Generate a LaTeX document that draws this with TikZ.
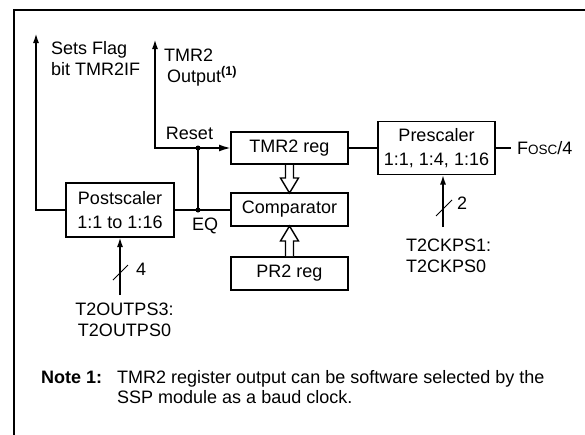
\documentclass[tikz,border=0pt]{standalone}
\usepackage{fontspec}
\setmainfont{Liberation Sans}
\usetikzlibrary{positioning,arrows.meta,calc}

\tikzset{
  blk/.style={draw, line width=1.9pt, minimum width=117pt, minimum height=33pt,
    inner sep=0pt, outer sep=0pt, align=center},
  twoline/.style={font=\fontsize{18}{24.5}\selectfont},
  wire/.style={line width=1.9pt},
  sig/.style={wire, -{Latex[length=10pt,width=6pt]}},
  lbl/.style={inner sep=0pt, align=left},
  hollow/.style={line width=1.4pt, fill=white},
}

\begin{document}
\begin{tikzpicture}[x=1pt, y=-1pt, font=\fontsize{18}{21}\selectfont]
    \useasboundingbox (0,0) rectangle (585,434);
    % frame
    \draw[line width=2pt] (14,440) -- (14,10) -- (590,10);

    % blocks
    \node[blk, minimum height=32pt] (tmr) at (289.5,148) {TMR2 reg};
    \node[blk, below=29pt of tmr] (cmp) {Comparator};
    \node[blk, below=31pt of cmp] (pr2) {PR2 reg};
    \node[blk, twoline, minimum width=108pt, minimum height=54pt] (post) at (120,210) {Postscaler\\1:1 to 1:16};
    \node[blk, twoline, minimum height=53pt] (pre) at (436.5,148) {Prescaler\\1:1, 1:4, 1:16};

    % hollow data arrows
    \draw[hollow] ($(tmr.south)+(-4,1)$) -- ($(cmp.north)+(-4,-15)$) -- ($(cmp.north)+(-9,-15)$)
        -- (cmp.north) -- ($(cmp.north)+(9,-15)$) -- ($(cmp.north)+(4,-15)$) -- ($(tmr.south)+(4,1)$);
    \draw[hollow] ($(pr2.north)+(-4,-1)$) -- ($(cmp.south)+(-4,15)$) -- ($(cmp.south)+(-9,15)$)
        -- (cmp.south) -- ($(cmp.south)+(9,15)$) -- ($(cmp.south)+(4,15)$) -- ($(pr2.north)+(4,-1)$);

    % signal points
    \coordinate (flag) at (36,33);
    \coordinate (tout) at (155,39);
    \coordinate (rst) at (198,148);
    \coordinate (eq) at (198,210);
    \coordinate (pin) at (120,295);
    \coordinate (ckin) at (443,227);

    % wires
    \draw[sig] (post.west) -| (flag);
    \draw[sig] (rst) -| (tout);
    \draw[wire, -{Latex[length=12pt,width=7pt]}] (rst) -- (tmr.west);
    \draw[wire] (post.east) -- (post.east -| cmp.west);
    \draw[wire] (eq) -- (rst);
    \draw[wire] (tmr.east) -- (pre.west);
    \draw[sig] (pin) -- (post.south);
    \draw[sig] (ckin) -- (ckin |- pre.south);
    \fill (rst) circle (2.5);
    \fill (eq) circle (2.5);

    % bus slashes
    \draw[line width=1pt] ($(pin)+(-7,-15)$) -- ($(pin)+(8,-30)$);
    \draw[line width=1pt] ($(ckin)+(-7,-11)$) -- ($(ckin)+(9,-27)$);

    % labels (base = last line)
    \node[lbl, anchor=base west] (flagtxt) at (51,75) {Sets Flag\\bit TMR2IF};
    \node[lbl, anchor=base west] (outtxt) at (164,61) {TMR2};
    \node[lbl, anchor=base west] (outtxt2) at (167,82) {Output\textsuperscript{\bfseries(1)}};
    \node[lbl, anchor=base] (rsttxt) at (189.5,139) {Reset};
    \node[lbl, anchor=base west] (eqtxt) at (192,230) {EQ};
    \node[lbl, anchor=west] (bus4) at (136,269) {4};
    \node[lbl, anchor=west] (bus2) at (457,203) {2};
    \node[lbl, anchor=west, inner xsep=6pt] (fosc) at (511,148) {F{\fontsize{13.5}{13.5}\selectfont OSC}/4};
    \draw[wire] (pre.east) -- (fosc.west);
    \node[lbl, align=center, anchor=base] (outps) at (124.5,336.5) {T2OUTPS3:\\T2OUTPS0};
    \node[lbl, anchor=base west] (ckps) at (406,272) {T2CKPS1:\\T2CKPS0};

    % note
    \node[lbl, anchor=base west] (notehd) at (41,383) {\textbf{Note 1:}};
    \node[lbl, anchor=base west, font=\fontsize{18}{20}\selectfont] (notetxt) at (117,403)
        {TMR2 register output can be software selected by the\\SSP module as a baud clock.};
\end{tikzpicture}
\end{document}
